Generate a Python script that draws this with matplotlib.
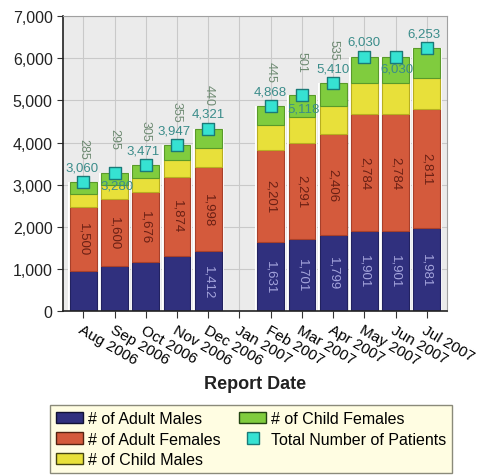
import numpy as np
import matplotlib
matplotlib.use("Agg")
import matplotlib.pyplot as plt
from matplotlib.patches import Patch
from matplotlib.lines import Line2D

plt.rcParams['font.family'] = ['Liberation Sans', 'DejaVu Sans']

months = ["Aug 2006", "Sep 2006", "Oct 2006", "Nov 2006", "Dec 2006", "Jan 2007",
          "Feb 2007", "Mar 2007", "Apr 2007", "May 2007", "Jun 2007", "Jul 2007"]
# Jan 2007 has no report
adult_males = [960, 1070, 1160, 1315, 1412, 0, 1631, 1701, 1799, 1901, 1901, 1981]
adult_females = [1500, 1600, 1676, 1874, 1998, 0, 2201, 2291, 2406, 2784, 2784, 2811]
child_males = [315, 315, 330, 403, 471, 0, 591, 625, 670, 720, 720, 740]
child_females = [285, 295, 305, 355, 440, 0, 445, 501, 535, 625, 625, 721]
totals = [3060, 3280, 3471, 3947, 4321, None, 4868, 5118, 5410, 6030, 6030, 6253]

# which labels were drawn in the original (others hidden by overlap)
show_male_label = [False, False, False, False, True, False, True, True, True, True, True, True]
show_cf_label = [True, True, True, True, True, False, True, True, True, False, False, False]
# offset (points) of each total label relative to its marker
total_offsets = [(-1, 6), (2, -5), (-2, 6), (-2, 6), (0, 7), None,
                 (0, 6), (1, -5), (0, 6), (0, 7), (1, -4), (-2, 6)]

x = np.arange(len(months))
am = np.array(adult_males)
af = np.array(adult_females)
cm = np.array(child_males)
cf = np.array(child_females)
valid = np.array([t is not None for t in totals])

c_am, c_af, c_cm, c_cf = "#30307e", "#d45a3c", "#e8e03a", "#80cc3e"
e_am, e_af, e_cm, e_cf = "#222260", "#a8402a", "#b8ae20", "#5a9a2a"

fig = plt.figure(figsize=(4.85, 4.77), dpi=100)
ax = fig.add_axes([0.130, 0.346, 0.792, 0.618])
ax.set_facecolor("#ebebeb")
ax.grid(True, color="#c9c9c9", linewidth=0.8)
ax.set_axisbelow(True)

w = 0.86
stack_tot = am + af + cm + cf
ax.bar(x[valid], stack_tot[valid], width=0.98, color="white", zorder=1.5)
ax.bar(x[valid], am[valid], width=w, color=c_am, edgecolor=e_am, linewidth=0.8, zorder=2)
ax.bar(x[valid], af[valid], bottom=am[valid], width=w, color=c_af, edgecolor=e_af,
       linewidth=0.8, zorder=2)
ax.bar(x[valid], cm[valid], bottom=(am + af)[valid], width=w, color=c_cm, edgecolor=e_cm,
       linewidth=0.8, zorder=2)
ax.bar(x[valid], cf[valid], bottom=(am + af + cm)[valid], width=w, color=c_cf, edgecolor=e_cf,
       linewidth=0.8, zorder=2)

tot_vals = np.array([t if t is not None else 0 for t in totals], dtype=float)
ax.scatter(x[valid], tot_vals[valid], marker="s", s=70, color="#36e2d2",
           edgecolors="#1a7a78", linewidths=1.0, zorder=4)

for i in range(len(months)):
    if not valid[i]:
        continue
    if show_male_label[i]:
        ax.text(x[i], am[i] / 2, f"{am[i]:,}", rotation=-90, ha="center", va="center",
                color="#a4a4dc", fontsize=9.5, zorder=3)
    ax.text(x[i], am[i] + af[i] / 2, f"{af[i]:,}", rotation=-90, ha="center", va="center",
            color="#6a2014", fontsize=9.5, zorder=3)
    if show_cf_label[i]:
        ax.annotate(f"{cf[i]:,}", (x[i], stack_tot[i]), xytext=(0, 17),
                    textcoords="offset points", rotation=-90, ha="center", va="bottom",
                    color="#6e8a72", fontsize=9, zorder=3)
    dx, dy = total_offsets[i]
    ax.annotate(f"{totals[i]:,}", (x[i], totals[i]), xytext=(dx, dy),
                textcoords="offset points", ha="center", va="bottom" if dy > 0 else "top",
                color="#3a8c8a", fontsize=9.5, zorder=5)

ax.set_xlim(-0.65, 11.65)
ax.set_ylim(0, 7000)
ax.set_yticks(np.arange(0, 7001, 1000))
ax.yaxis.set_major_formatter(matplotlib.ticker.FuncFormatter(lambda v, p: f"{int(v):,}"))
ax.set_xticks(x)
ax.set_xticklabels(months, rotation=-30, ha="left", va="top", rotation_mode="anchor")
ax.tick_params(axis="x", direction="out", length=5, labelsize=11, pad=3, color="#333333")
ax.tick_params(axis="y", direction="out", length=4, labelsize=11.5, color="#333333",
               labelcolor="#222222")
for s in ["top", "right"]:
    ax.spines[s].set_color("#a0a0a0")
for s in ["left", "bottom"]:
    ax.spines[s].set_color("#222222")
    ax.spines[s].set_linewidth(1.2)
ax.set_xlabel("Report Date", fontsize=13, fontweight="bold", labelpad=5, color="#222222")

handles = [
    Patch(facecolor=c_am, edgecolor="#111133", label="# of Adult Males"),
    Patch(facecolor=c_af, edgecolor="#552211", label="# of Adult Females"),
    Patch(facecolor=c_cm, edgecolor="#444411", label="# of Child Males"),
    Patch(facecolor=c_cf, edgecolor="#224411", label="# of Child Females"),
    Line2D([], [], marker="s", linestyle="none", markersize=9, markerfacecolor="#36e2d2",
           markeredgecolor="#1a7a78", label="Total Number of Patients"),
]
leg = fig.legend(handles=handles, loc="lower left", ncol=2, mode="expand",
                 bbox_to_anchor=(0.087, -0.01, 0.861, 0.16), fontsize=11.5,
                 frameon=True, fancybox=False, handlelength=1.7, handleheight=0.75,
                 labelspacing=0.35, borderpad=0.35, columnspacing=1.0, handletextpad=0.3)
leg.get_frame().set_facecolor("#fffde2")
leg.get_frame().set_edgecolor("#8a8a7a")
leg.get_frame().set_alpha(1)

fig.savefig("out.png", dpi=100)
